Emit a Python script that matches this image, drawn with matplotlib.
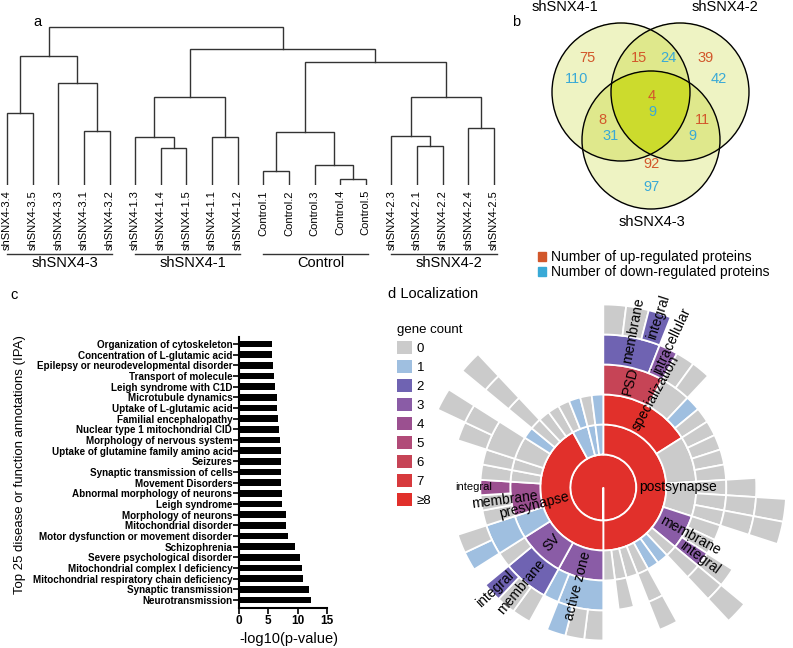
import numpy as np
import matplotlib.pyplot as plt
from matplotlib.patches import Patch, Circle

plt.rcParams['font.family'] = ['Liberation Sans', 'DejaVu Sans']

# ---------------- data ----------------
# a: hierarchical clustering
leaf_labels = ['shSNX4-3.4', 'shSNX4-3.5', 'shSNX4-3.3', 'shSNX4-3.1', 'shSNX4-3.2',
               'shSNX4-1.3', 'shSNX4-1.4', 'shSNX4-1.5', 'shSNX4-1.1', 'shSNX4-1.2',
               'Control.1', 'Control.2', 'Control.3', 'Control.4', 'Control.5',
               'shSNX4-2.3', 'shSNX4-2.1', 'shSNX4-2.2', 'shSNX4-2.4', 'shSNX4-2.5']
# merges like a linkage matrix: node 20+k joins merge_left[k] and merge_right[k]
merge_left = [0, 3, 2, 20, 6, 5, 8, 25, 10, 13, 12, 28, 16, 15, 18, 33, 31, 27, 23]
merge_right = [1, 4, 21, 22, 7, 24, 9, 26, 11, 14, 29, 30, 17, 32, 19, 34, 35, 36, 37]
merge_height = [72, 54, 102, 129, 37, 48, 48, 88, 14, 6, 20, 53, 39, 49, 57, 88, 123, 136, 158]
group_names = ['shSNX4-3', 'shSNX4-1', 'Control', 'shSNX4-2']
group_first = [0, 5, 10, 15]
group_last = [4, 9, 14, 19]

# b: venn counts
venn_regions = ['1', '1&2', '2', '1&2&3', '1&3', '2&3', '3']
venn_up = [75, 15, 39, 4, 8, 11, 92]
venn_down = [110, 24, 42, 9, 31, 9, 97]
venn_sets = ['shSNX4-1', 'shSNX4-2', 'shSNX4-3']

# c: IPA annotations
annotations = ['Organization of cytoskeleton', 'Concentration of L-glutamic acid',
               'Epilepsy or neurodevelopmental disorder', 'Transport of molecule',
               'Leigh syndrome with C1D', 'Microtubule dynamics', 'Uptake of L-glutamic acid',
               'Familial encephalopathy', 'Nuclear type 1 mitochondrial CID',
               'Morphology of nervous system', 'Uptake of glutamine family amino acid',
               'Seizures', 'Synaptic transmission of cells', 'Movement Disorders',
               'Abnormal morphology of neurons', 'Leigh syndrome', 'Morphology of neurons',
               'Mitochondrial disorder', 'Motor dysfunction or movement disorder',
               'Schizophrenia', 'Severe psychological disorder',
               'Mitochondrial complex I deficiency', 'Mitochondrial respiratory chain deficiency',
               'Synaptic transmission', 'Neurotransmission']
neglog_p = [5.6, 5.6, 5.7, 6.0, 6.1, 6.4, 6.5, 6.7, 6.8, 7.0, 7.1, 7.1, 7.2, 7.2, 7.3,
            7.3, 8.0, 8.0, 8.4, 9.6, 10.4, 10.7, 10.9, 12.0, 12.3]


# d: SynGO localization sunburst, node = (label, gene count, children)
def N(label, count, *children):
    return (label, count, list(children))


def L(count, label=''):
    return (label, count, [])


postsynapse_tree = N('postsynapse', 25,
    N('specialization', 12,
      N('PSD', 6, N('membrane', 2, L(0), L(0), L(2, 'integral')), N('intracellular', 3)),
      N('', 0, L(0), L(0)), L(1), L(0)),
    N('', 0, L(0), L(0), L(0), L(0)),
    N('', 0, N('', 0, L(0)), N('', 0, N('', 0, L(0))), N('', 0, N('', 0, L(0)))),
    N('membrane', 3, L(0), L(0), N('integral', 3, L(0))),
    N('', 0, N('', 0, N('', 0, L(0)))),
    L(1), L(1),
    N('', 0, N('', 0, L(0))),
    L(0),
    N('', 0, L(0)),
    L(0))
presynapse_tree = N('presynapse', 20,
    N('active zone', 3, N('', 1, L(0), L(0), L(1)), L(1)),
    N('SV', 3, N('membrane', 2, L(0), L(0), L(2, 'integral')), L(0)),
    N('', 1, N('', 1, L(1), L(0))),
    N('membrane', 4, L(0), L(0), L(4, 'integral')),
    N('', 0, L(0)), N('', 0, L(0)),
    N('', 0, N('', 0, L(0), N('', 0, L(0)))),
    L(1),
    N('', 0, N('', 0, N('', 0, L(0)))),
    L(0), L(0))
other_trees = [N('', 1, L(0), L(1)), N('', 1, L(0)), N('', 1, L(1))]
synapse_tree = N('', 40, postsynapse_tree, presynapse_tree, *other_trees)

count_labels = ['0', '1', '2', '3', '4', '5', '6', '7', '\u22658']
count_colors = ['#cbcbcb', '#9fbfe0', '#6f63b2', '#8a5ca6', '#9b5090', '#b14b78',
                '#c64456', '#d73a3d', '#e1302b']

# ---------------- figure ----------------
W, H = 793, 648
fig = plt.figure(figsize=(W / 100, H / 100), dpi=100)


def px_axes(x0, y0, x1, y1, **kw):
    return fig.add_axes([x0 / W, 1 - y1 / H, (x1 - x0) / W, (y1 - y0) / H], **kw)


# ---- a: dendrogram ----
step = 25.63
ax_a = px_axes(0, 20, 505, 185)
pos = {i: (i, 0) for i in range(len(leaf_labels))}
for k, (l, r, h) in enumerate(zip(merge_left, merge_right, merge_height)):
    xl, yl = pos[l]
    xr, yr = pos[r]
    ax_a.plot([xl, xl, xr, xr], [yl, h, h, yr], color='#333333', lw=1.0, solid_joinstyle='miter')
    pos[len(leaf_labels) + k] = ((xl + xr) / 2, h)
for i, lab in enumerate(leaf_labels):
    ax_a.text(i, -5, lab, rotation=90, ha='center', va='top', fontsize=8)
for name, a, b in zip(group_names, group_first, group_last):
    ax_a.plot([a, b + 0.1], [-69, -69], color='#333333', lw=1.0, clip_on=False)
    ax_a.text((a + b) / 2 + 0.25, -78, name, ha='center', va='center', fontsize=10.5)
ax_a.set_xlim(-7 / step, 498 / step)
ax_a.set_ylim(0, 165)
ax_a.axis('off')
fig.text(33 / W, 1 - 22 / H, 'a', fontsize=10.5, va='center')

# ---- b: venn ----
ax_b = px_axes(520, 0, 793, 300)
ax_b.set_xlim(520, 793)
ax_b.set_ylim(300, 0)
ax_b.axis('off')
centers = [(621, 92), (680, 92), (651, 140)]
rad = 69
xx, yy = np.meshgrid(np.linspace(540, 760, 880), np.linspace(15, 220, 820))
depth = sum(((xx - cx) ** 2 + (yy - cy) ** 2 <= rad ** 2).astype(int) for cx, cy in centers)
fill = np.array([[1, 1, 1, 0], [0.937, 0.953, 0.765, 1], [0.878, 0.91, 0.55, 1], [0.8, 0.86, 0.18, 1]])
ax_b.imshow(fill[depth], extent=(540, 760, 220, 15), interpolation='nearest', zorder=1)
for cx, cy in centers:
    ax_b.add_patch(Circle((cx, cy), rad, fill=False, ec='black', lw=1.0, zorder=2))
region_pos = {'1': (587, 58, 577, 79), '1&2': (639, 58, 668, 58), '2': (706, 58, 719, 79),
              '1&2&3': (652, 96, 652, 112), '1&3': (602, 120, 611, 136),
              '2&3': (702, 120, 692, 136), '3': (652, 164, 652, 187)}
up_col, down_col = '#d2572b', '#39a9d6'
for reg, u, d in zip(venn_regions, venn_up, venn_down):
    x1, y1, x2, y2 = region_pos[reg]
    ax_b.text(x1, y1, str(u), color=up_col, ha='center', va='center', fontsize=10.5, zorder=3)
    ax_b.text(x2, y2, str(d), color=down_col, ha='center', va='center', fontsize=10.5, zorder=3)
for name, (x, y) in zip(venn_sets, [(565, 7), (725, 7), (652, 222)]):
    ax_b.text(x, y, name, ha='center', va='center', fontsize=10.5)
fig.text(512 / W, 1 - 22 / H, 'b', fontsize=10.5, va='center')
ax_b.legend(handles=[Patch(color=up_col, label='Number of up-regulated proteins'),
                     Patch(color=down_col, label='Number of down-regulated proteins')],
            loc='upper left', bbox_to_anchor=(538 / W, 1 - 250 / H), bbox_transform=fig.transFigure,
            frameon=False, fontsize=10, handlelength=0.6, handleheight=0.6, handletextpad=0.35,
            labelspacing=0.1, borderpad=0, borderaxespad=0)

# ---- c: bar chart ----
ax_c = px_axes(239.3, 337, 326.7, 608)
ax_c.barh(range(len(annotations)), neglog_p, height=0.62, color='black')
ax_c.set_ylim(len(annotations) - 0.25, -0.66)
ax_c.set_xlim(0, 15)
ax_c.set_yticks(range(len(annotations)))
ax_c.set_yticklabels(annotations, fontweight='bold', fontsize=7.15)
ax_c.set_xticks([0, 5, 10, 15])
ax_c.set_xticklabels(['0', '5', '10', '15'], fontweight='bold', fontsize=8.5)
for s in ['top', 'right']:
    ax_c.spines[s].set_visible(False)
for s in ['left', 'bottom']:
    ax_c.spines[s].set_linewidth(1.5)
ax_c.tick_params(axis='both', length=4, width=1.2, pad=1)
ax_c.set_xlabel('-log10(p-value)', fontsize=10.5)
ax_c.xaxis.set_label_coords(0.57, -0.088)
fig.text(20 / W, 1 - 465 / H, 'Top 25 disease or function annotations (IPA)', rotation=90,
         ha='center', va='center', fontsize=9.5)
fig.text(10 / W, 1 - 295 / H, 'c', fontsize=10.5, va='center')

# ---- d: sunburst ----
cx, cy, R = 603.3, 487.5, 190
ax_d = px_axes(cx - R, cy - R, cx + R, cy + R, projection='polar')
ax_d.set_theta_zero_location('N')
ax_d.set_theta_direction(-1)
ax_d.set_ylim(0, R)
ax_d.set_axis_off()


def n_leaves(node):
    return 1 if not node[2] else sum(n_leaves(c) for c in node[2])


unit = 360.0 / n_leaves(synapse_tree)
segments = []


def layout(node, start, level):
    span = n_leaves(node) * unit
    segments.append((level, start, span, node[1], node[0]))
    s = start
    for child in node[2]:
        layout(child, s, level + 1)
        s += n_leaves(child) * unit


layout(synapse_tree, 0.0, 0)
r0, rw = 33, 30
for level, start, span, cnt, label in segments:
    col = count_colors[min(cnt, 8)]
    if level == 0:
        ax_d.bar(0, r0, width=2 * np.pi, bottom=0, color=col, edgecolor='white', linewidth=1.3)
        continue
    r_in = r0 + rw * (level - 1)
    ax_d.bar(np.radians(start + span / 2), rw, width=np.radians(span), bottom=r_in,
             color=col, edgecolor='white', linewidth=1.3)
for level, start, span, cnt, label in segments:
    if level == 0 or not label:
        continue
    r_in = r0 + rw * (level - 1)
    mid = start + span / 2
    if mid < 180:
        rot, ha = 90 - mid, 'left'
    else:
        rot, ha = 270 - mid, 'right'
    small = label == 'integral' and level == 3 and mid > 180
    ax_d.text(np.radians(mid), r_in + (18 if small else 3), label, rotation=rot,
              rotation_mode='anchor', ha=ha, va='center', fontsize=8 if small else 10, zorder=5)

ax_d.legend(handles=[Patch(facecolor=c, edgecolor='none', label=l) for c, l in zip(count_colors, count_labels)],
            title='gene count', alignment='left', loc='upper left',
            bbox_to_anchor=(397 / W, 1 - 324 / H), bbox_transform=fig.transFigure,
            frameon=False, fontsize=9.5, title_fontsize=9.5, handlelength=1.15, handleheight=1.15,
            labelspacing=0.38, handletextpad=0.35, borderpad=0, borderaxespad=0)
fig.text(388 / W, 1 - 294 / H, 'd Localization', fontsize=10.5, va='center')

fig.savefig('out.png', dpi=100)
